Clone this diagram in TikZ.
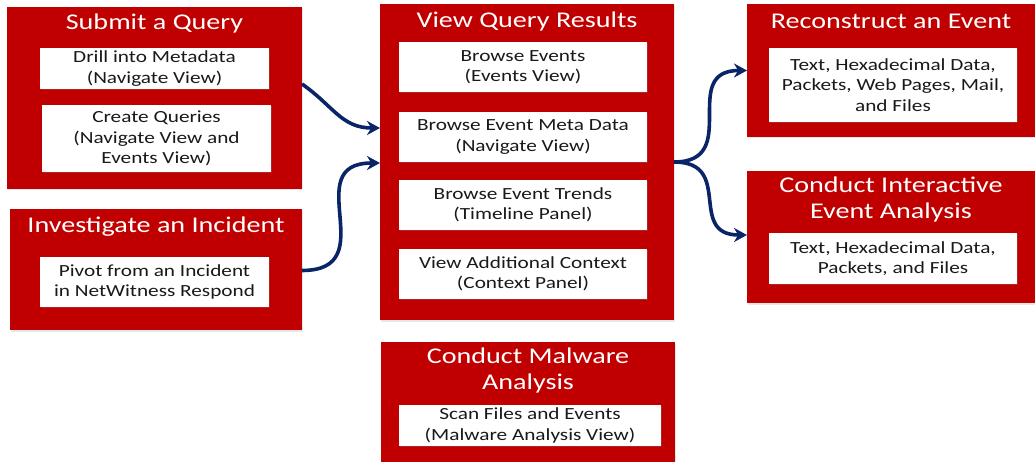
\documentclass[tikz,border=0pt]{standalone}
\usepackage{fontspec}
\setmainfont{Carlito}[FakeStretch=1.25]
\usetikzlibrary{arrows.meta,shadows}
\definecolor{cred}{RGB}{192,0,0}
\definecolor{cnavy}{RGB}{10,36,104}
\definecolor{ctext}{RGB}{25,25,25}
\begin{document}
\begin{tikzpicture}[x=1pt,y=-1pt,
  redbox/.style={fill=cred, draw=none, inner sep=0pt, outer sep=0pt, anchor=north west,
    drop shadow={opacity=0.18, shadow xshift=1pt, shadow yshift=-1.5pt}},
  wbox/.style={fill=white, draw=none, inner sep=0pt, outer sep=0pt, anchor=north west,
    align=center, text=ctext, font=\fontsize{17}{20.5}\selectfont,
    drop shadow={opacity=0.3, shadow xshift=0.8pt, shadow yshift=-1.2pt}},
  ttl/.style={text=white, align=center, inner sep=0pt, font=\fontsize{22.5}{25.5}\selectfont},
  conn/.style={draw=cnavy, line width=3.6pt, -{Stealth[length=13pt,width=14pt]}}
]
\useasboundingbox (0,0) rectangle (1035,462);
% Submit a Query
\node[redbox, minimum width=295pt, minimum height=182pt] (sq) at (7,7) {};
\node[ttl] (sqt) at (154.5,24) {Submit a Query};
\node[wbox, minimum width=229pt, minimum height=41pt] (sq1) at (40,48) {Drill into Metadata\\(Navigate View)};
\node[wbox, minimum width=229pt, minimum height=67pt] (sq2) at (42,105) {Create Queries\\(Navigate View and\\Events View)};
% Investigate an Incident
\node[redbox, minimum width=292pt, minimum height=121pt] (ii) at (10,209) {};
\node[ttl] (iit) at (156,227) {Investigate an Incident};
\node[wbox, minimum width=229pt, minimum height=50pt] (ii1) at (40,257) {Pivot from an Incident\\in NetWitness Respond};
% View Query Results
\node[redbox, minimum width=294pt, minimum height=316pt] (vq) at (380,4) {};
\node[ttl] (vqt) at (527,22) {View Query Results};
\node[wbox, minimum width=248pt, minimum height=50pt] (vq1) at (399,42) {Browse Events\\(Events View)};
\node[wbox, minimum width=248pt, minimum height=50pt] (vq2) at (399,112) {Browse Event Meta Data\\(Navigate View)};
\node[wbox, minimum width=248pt, minimum height=50pt] (vq3) at (399,180) {Browse Event Trends\\(Timeline Panel)};
\node[wbox, minimum width=248pt, minimum height=50pt] (vq4) at (399,249) {View Additional Context\\(Context Panel)};
% Reconstruct an Event
\node[redbox, minimum width=288pt, minimum height=133pt] (re) at (747,4) {};
\node[ttl] (ret) at (891,21) {Reconstruct an Event};
\node[wbox, minimum width=248pt, minimum height=74pt] (re1) at (769,48) {Text, Hexadecimal Data,\\Packets, Web Pages, Mail,\\and Files};
% Conduct Interactive Event Analysis
\node[redbox, minimum width=288pt, minimum height=132pt] (ci) at (747,171) {};
\node[ttl] (cit) at (891,199.5) {Conduct Interactive\\Event Analysis};
\node[wbox, minimum width=248pt, minimum height=51pt] (ci1) at (769,233) {Text, Hexadecimal Data,\\Packets, and Files};
% Conduct Malware Analysis
\node[redbox, minimum width=294pt, minimum height=125pt] (ma) at (381,342) {};
\node[ttl] (mat) at (528,370.5) {Conduct Malware\\Analysis};
\node[wbox, minimum width=262pt, minimum height=41pt] (ma1) at (399,405) {Scan Files and Events\\(Malware Analysis View)};
% connectors
\draw[conn] ([yshift=14pt]sq.east) to[out=-35,in=180,looseness=1.1] ([yshift=34pt]vq.west);
\draw[conn] ([yshift=-1pt]ii.east) to[out=0,in=180,looseness=1.6] ([yshift=-1pt]vq.west);
\draw[conn] (vq.east) to[out=0,in=180,looseness=1.5] (re.west);
\draw[conn] (vq.east) to[out=0,in=180,looseness=1.5] ([yshift=2pt]ci.west);
\end{tikzpicture}
\end{document}
